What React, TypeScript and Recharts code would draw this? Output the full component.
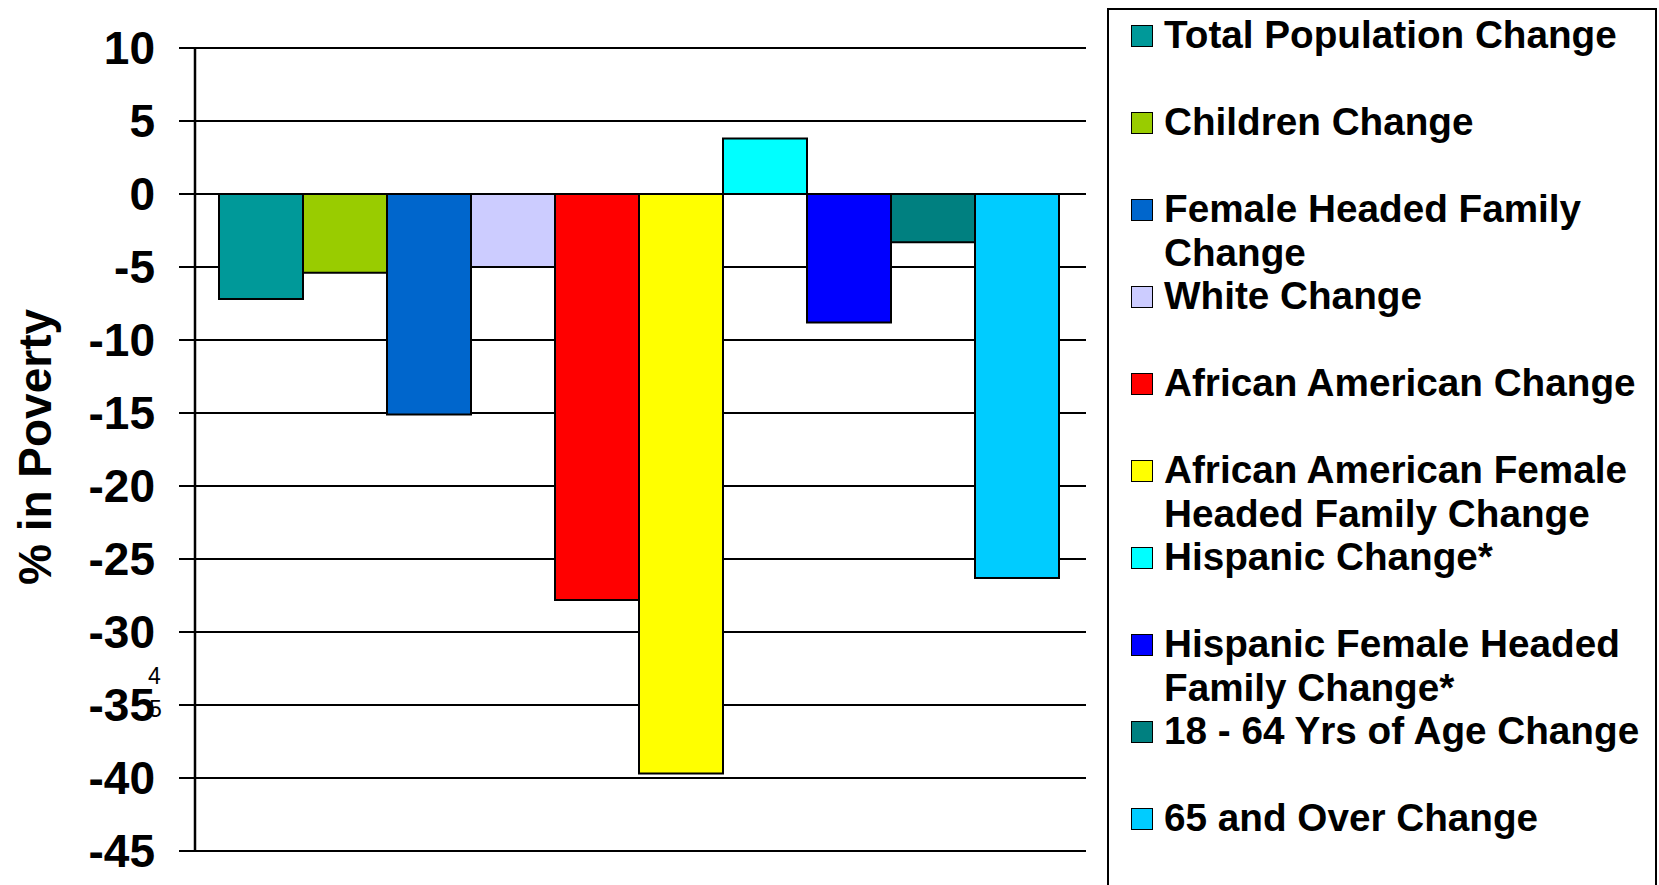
import React from 'react';
import { BarChart, Bar, XAxis, YAxis, CartesianGrid, Legend } from 'recharts';

const FONT = '"Liberation Sans", Arial, sans-serif';

const CATEGORIES = ['Change'];

const SERIES_KEYS = [
  'total',
  'children',
  'femaleHeaded',
  'white',
  'africanAmerican',
  'aaFemaleHeaded',
  'hispanic',
  'hispanicFemaleHeaded',
  'age18to64',
  'age65plus',
];

const SERIES_NAMES = [
  'Total Population Change',
  'Children Change',
  'Female Headed Family Change',
  'White Change',
  'African American Change',
  'African American Female Headed Family Change',
  'Hispanic Change*',
  'Hispanic Female Headed Family Change*',
  '18 - 64 Yrs of Age Change',
  '65 and Over Change',
];

const SERIES_VALUES = [-7.2, -5.4, -15.1, -5.0, -27.8, -39.7, 3.8, -8.8, -3.3, -26.3];

const SERIES_COLORS = [
  '#009999',
  '#99cc00',
  '#0066cc',
  '#ccccff',
  '#ff0000',
  '#ffff00',
  '#00ffff',
  '#0000ff',
  '#008080',
  '#00ccff',
];

const Y_TICKS = [10, 5, 0, -5, -10, -15, -20, -25, -30, -35, -40, -45];

const data = CATEGORIES.map((category) => {
  const row: any = { category };
  SERIES_KEYS.forEach((key, i) => {
    row[key] = SERIES_VALUES[i];
  });
  return row;
});

const renderLegend = ({ payload }: any) => {
  // keep the series order, recharts sorts legend items by name otherwise
  const items = [...(payload || [])].sort(
    (a: any, b: any) => SERIES_NAMES.indexOf(a.value) - SERIES_NAMES.indexOf(b.value)
  );
  return (
    <div
      style={{
        width: 550,
        height: 877,
        boxSizing: 'border-box',
        border: '2px solid #000',
        borderBottom: 'none',
        paddingTop: 3,
        paddingLeft: 22,
        fontFamily: FONT,
        fontWeight: 'bold',
        fontSize: 38.7,
        lineHeight: '43.5px',
        color: '#000',
        background: '#fff',
      }}
    >
      {items.map((entry: any, i: number) => (
        <div key={`legend-${i}`} style={{ display: 'flex', alignItems: 'flex-start', height: 87 }}>
          <span
            style={{
              width: 22,
              height: 22,
              marginTop: 12,
              background: entry.color,
              border: '1.5px solid #000',
              boxSizing: 'border-box',
              flexShrink: 0,
            }}
          />
          <span style={{ marginLeft: 11, width: 492 }}>{entry.value}</span>
        </div>
      ))}
    </div>
  );
};

const YLabel = () => (
  <g>
    <text
      x={35}
      y={447}
      transform="rotate(-90 35 447)"
      textAnchor="middle"
      dominantBaseline="central"
      fontFamily={FONT}
      fontWeight="bold"
      fontSize={46}
      fill="#000"
    >
      % in Poverty
    </text>
    {/* stray page numbers in the source slide */}
    <text x={148} y={684} fontFamily={FONT} fontSize={23} fill="#000">
      4
    </text>
    <text x={149} y={717} fontFamily={FONT} fontSize={23} fill="#000">
      5
    </text>
  </g>
);

export default function App() {
  return (
    <div
      style={{
        position: 'absolute',
        left: 0,
        top: 0,
        width: 1659,
        height: 885,
        background: '#fff',
        overflow: 'hidden',
      }}
    >
      <BarChart
        width={1659}
        height={885}
        data={data}
        margin={{ top: 48, right: 573, bottom: 34, left: 45 }}
        barCategoryGap={24}
        barGap={0}
      >
        <CartesianGrid vertical={false} stroke="#000" strokeWidth={2} />
        <XAxis
          dataKey="category"
          height={0}
          tick={false}
          tickLine={false}
          axisLine={{ stroke: '#000', strokeWidth: 2 }}
        />
        <YAxis
          width={150}
          domain={[-45, 10]}
          ticks={Y_TICKS}
          interval={0}
          tickSize={16}
          tickMargin={24}
          tickLine={{ stroke: '#000', strokeWidth: 2 }}
          axisLine={{ stroke: '#000', strokeWidth: 2.5 }}
          tick={{ fontSize: 46, fontWeight: 'bold', fill: '#000', fontFamily: FONT }}
          label={{ content: () => <YLabel /> }}
        />
        <YAxis
          yAxisId="right"
          orientation="right"
          width={0}
          domain={[-45, 10]}
          tick={false}
          tickLine={false}
          axisLine={{ stroke: '#000', strokeWidth: 3 }}
        />
        <Legend
          layout="horizontal"
          align="center"
          verticalAlign="middle"
          content={renderLegend}
          wrapperStyle={{ left: 1107, top: 8, width: 550, height: 877 }}
        />
        {SERIES_KEYS.map((key, i) => (
          <Bar
            key={key}
            dataKey={key}
            name={SERIES_NAMES[i]}
            fill={SERIES_COLORS[i]}
            stroke="#000"
            strokeWidth={2}
            isAnimationActive={false}
          />
        ))}
      </BarChart>
    </div>
  );
}
